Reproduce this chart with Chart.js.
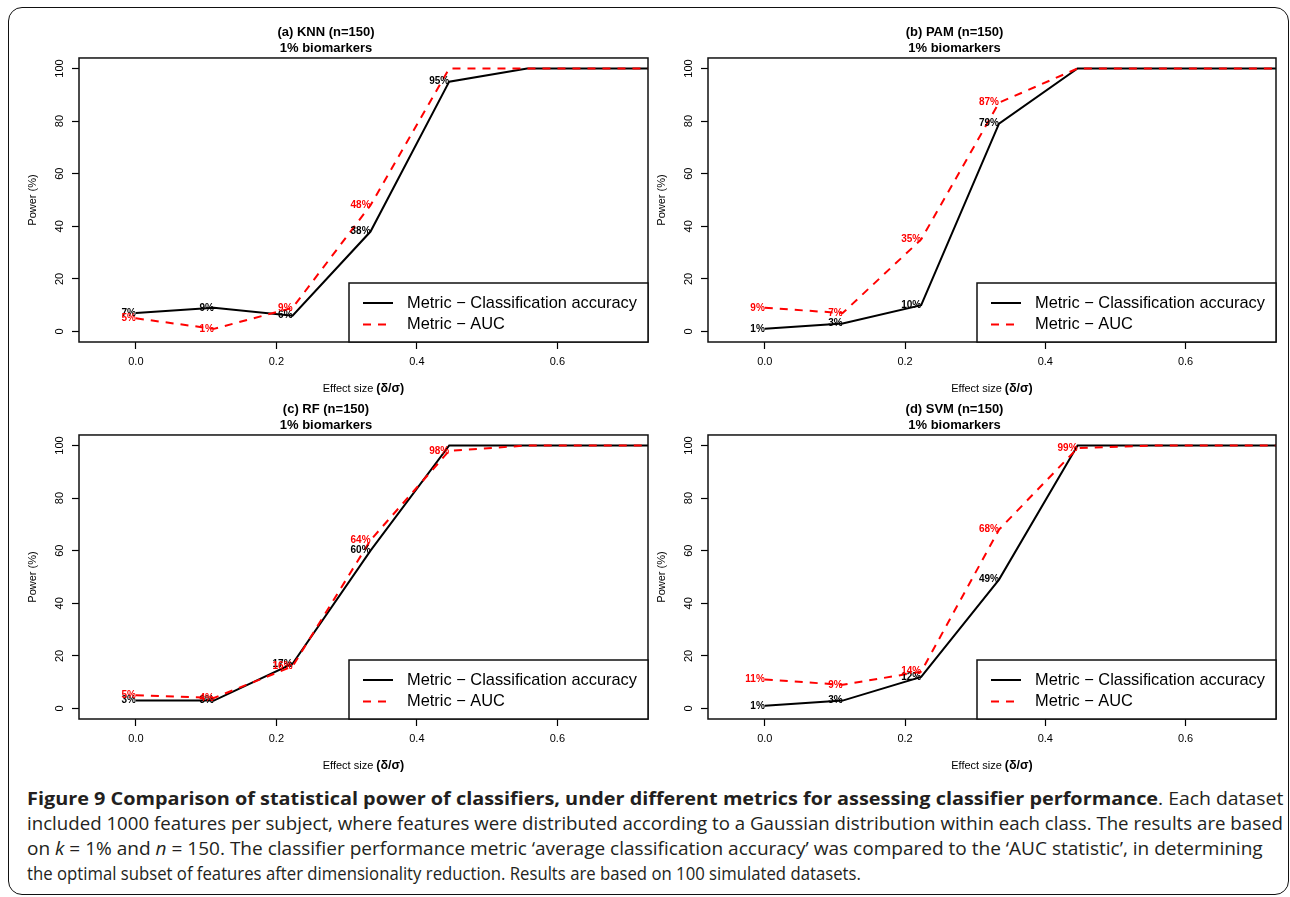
<!DOCTYPE html>
<html>
<head>
<meta charset="utf-8">
<script src="https://cdn.jsdelivr.net/npm/chart.js"></script>
<style>
  html, body { margin: 0; padding: 0; background: #fff; }
  body { width: 1290px; height: 897px; position: relative; overflow: hidden; }
  .frame { position: absolute; left: 8px; top: 7px; width: 1281px; height: 888px; box-sizing: border-box;
           border: 1.5px solid #111; border-radius: 14px; }
  canvas { position: absolute; }
  .cap { position: absolute; height: 25px; line-height: 25px; white-space: nowrap; transform-origin: 0 50%;
         font-family: 'Open Sans', 'Noto Sans', sans-serif; font-size: 18px; color: #231f20; }
</style>
</head>
<body>
<div class="frame"></div>
<canvas id="knn" width="719" height="400" style="left:4px;top:0px"></canvas>
<canvas id="pam" width="718" height="400" style="left:633px;top:0px"></canvas>
<canvas id="rf" width="719" height="400" style="left:4px;top:377px"></canvas>
<canvas id="svm" width="718" height="400" style="left:633px;top:377px"></canvas>

<div class="cap" style="left:27px;top:786px" data-w="1131"><b>Figure 9 Comparison of statistical power of classifiers, under different metrics for assessing classifier performance</b></div>
<div class="cap" style="left:1158px;top:786px" data-w="125">. Each dataset</div>
<div class="cap" style="left:27px;top:811px" data-w="1256">included 1000 features per subject, where features were distributed according to a Gaussian distribution within each class. The results are based</div>
<div class="cap" style="left:27px;top:836px" data-w="1236">on <i>k</i> = 1% and <i>n</i> = 150. The classifier performance metric ‘average classification accuracy’ was compared to the ‘AUC statistic’, in determining</div>
<div class="cap" style="left:27px;top:861px" data-w="834">the optimal subset of features after dimensionality reduction. Results are based on 100 simulated datasets.</div>

<script>
// effect sizes (delta/sigma) and axis ticks
const xValues = [0, 0.111, 0.223, 0.334, 0.446, 0.557, 0.669, 0.78];
const xTicks = [0, 0.2, 0.4, 0.6];
const yTicks = [0, 20, 40, 60, 80, 100];

// power (%) per classifier
const knnAccuracy = [7, 9, 6, 38, 95, 100, 100, 100];
const knnAuc = [5, 1, 9, 48, 100, 100, 100, 100];
const pamAccuracy = [1, 3, 10, 79, 100, 100, 100, 100];
const pamAuc = [9, 7, 35, 87, 100, 100, 100, 100];
const rfAccuracy = [3, 3, 17, 60, 100, 100, 100, 100];
const rfAuc = [5, 4, 16, 64, 98, 100, 100, 100];
const svmAccuracy = [1, 3, 12, 49, 100, 100, 100, 100];
const svmAuc = [11, 9, 14, 68, 99, 100, 100, 100];

const FONT = "'Liberation Sans', Arial, sans-serif";
Chart.defaults.font.family = FONT;
Chart.defaults.color = '#000';

const toPoints = arr => arr.map((v, i) => ({ x: xValues[i], y: v }));

// draws the R-style bits: box, rotated y labels, x title, point labels, legend
const rStyle = {
    id: 'rStyle',
    afterDatasetsDraw(chart) {
        const ctx = chart.ctx;
        const area = chart.chartArea;
        ctx.save();
        ctx.font = 'bold 10px ' + FONT;
        ctx.textAlign = 'right';
        ctx.textBaseline = 'middle';
        chart.data.datasets.forEach((ds, i) => {
            const meta = chart.getDatasetMeta(i);
            meta.data.forEach((pt, j) => {
                const v = ds.data[j].y;
                if (v >= 100 || pt.x > area.right) return;
                ctx.fillStyle = ds.borderColor;
                ctx.fillText(v + '%', pt.x, pt.y);
            });
        });
        ctx.restore();
    },
    afterDraw(chart) {
        const ctx = chart.ctx;
        const area = chart.chartArea;
        const y = chart.scales.y;
        ctx.save();

        ctx.strokeStyle = '#111';
        ctx.lineWidth = 1.5;
        ctx.strokeRect(area.left, area.top, area.right - area.left, area.bottom - area.top);

        ctx.fillStyle = '#000';
        ctx.font = '11px ' + FONT;
        ctx.textAlign = 'center';
        ctx.textBaseline = 'middle';
        yTicks.forEach(v => {
            ctx.save();
            ctx.translate(area.left - 19, y.getPixelForValue(v));
            ctx.rotate(-Math.PI / 2);
            ctx.fillText(String(v), 0, 0);
            ctx.restore();
        });

        // x axis title, plain text plus bold (δ/σ)
        const t1 = 'Effect size ', t2 = '(δ/σ)';
        ctx.font = '11px ' + FONT;
        const w1 = ctx.measureText(t1).width;
        ctx.font = 'bold 12.5px ' + FONT;
        const w2 = ctx.measureText(t2).width;
        const cx = (area.left + area.right) / 2;
        const ty = area.bottom + 47;
        ctx.textAlign = 'left';
        ctx.font = '11px ' + FONT;
        ctx.fillText(t1, cx - (w1 + w2) / 2, ty);
        ctx.font = 'bold 12.5px ' + FONT;
        ctx.fillText(t2, cx - (w1 + w2) / 2 + w1, ty);

        // legend box in the bottom right corner
        const L = area.right - 299, T = area.bottom - 59;
        ctx.fillStyle = '#fff';
        ctx.fillRect(L, T, 299, 59);
        ctx.strokeStyle = '#111';
        ctx.lineWidth = 1.5;
        ctx.strokeRect(L, T, 299, 59);
        ctx.font = '16.4px ' + FONT;
        ctx.textBaseline = 'middle';
        chart.data.datasets.forEach((ds, i) => {
            const ry = T + 20 + i * 21.5;
            ctx.strokeStyle = ds.borderColor;
            ctx.lineWidth = 2;
            ctx.setLineDash(ds.borderDash || []);
            ctx.beginPath();
            ctx.moveTo(L + 14, ry);
            ctx.lineTo(L + 44, ry);
            ctx.stroke();
            ctx.setLineDash([]);
            ctx.fillStyle = '#000';
            ctx.fillText(ds.label, L + 58, ry);
        });
        ctx.restore();
    }
};

function makePanel(id, title, acc, auc) {
    return new Chart(document.getElementById(id), {
        type: 'line',
        data: {
            datasets: [{
                label: 'Metric \u2212 Classification accuracy',
                data: toPoints(acc),
                borderColor: '#000000',
                borderWidth: 2,
                pointRadius: 0,
                tension: 0,
                order: 1
            }, {
                label: 'Metric \u2212 AUC',
                data: toPoints(auc),
                borderColor: '#ff0000',
                borderWidth: 2,
                borderDash: [8, 7],
                pointRadius: 0,
                tension: 0,
                order: 0
            }]
        },
        options: {
            responsive: false,
            animation: false,
            layout: { padding: { left: 0, right: 75, top: 0, bottom: 0 } },
            plugins: {
                legend: { display: false },
                tooltip: { enabled: false },
                title: {
                    display: true,
                    text: [title, '1% biomarkers'],
                    color: '#000',
                    font: { family: FONT, size: 13, weight: 'bold', lineHeight: 1.23 },
                    padding: { top: 24, bottom: 2 }
                }
            },
            scales: {
                x: {
                    type: 'linear',
                    min: -0.081,
                    max: 0.729,
                    afterBuildTicks: s => { s.ticks = xTicks.map(v => ({ value: v })); },
                    afterFit: s => { s.height = 58; },
                    ticks: { callback: v => v.toFixed(1), color: '#000', font: { size: 11 }, padding: 6, maxRotation: 0 },
                    grid: { drawOnChartArea: false, drawTicks: true, tickLength: 7, tickColor: '#000', tickWidth: 1.2 },
                    border: { display: false }
                },
                y: {
                    type: 'linear',
                    min: -4,
                    max: 104,
                    afterBuildTicks: s => { s.ticks = yTicks.map(v => ({ value: v })); },
                    afterFit: s => { s.width = 75; },
                    ticks: { display: false },
                    grid: { drawOnChartArea: false, drawTicks: true, tickLength: 7, tickColor: '#000', tickWidth: 1.2 },
                    border: { display: false },
                    title: { display: true, text: 'Power (%)', color: '#000', font: { size: 11 }, padding: { top: 22, bottom: 0 } }
                }
            }
        },
        plugins: [rStyle]
    });
}

makePanel('knn', '(a) KNN (n=150)', knnAccuracy, knnAuc);
makePanel('pam', '(b) PAM (n=150)', pamAccuracy, pamAuc);
makePanel('rf', '(c) RF (n=150)', rfAccuracy, rfAuc);
makePanel('svm', '(d) SVM (n=150)', svmAccuracy, svmAuc);

// fit each caption piece to the width it has in the figure
document.querySelectorAll('.cap').forEach(piece => {
    piece.style.transform = 'scaleX(' + (Number(piece.dataset.w) / piece.offsetWidth) + ')';
});
</script>
</body>
</html>
